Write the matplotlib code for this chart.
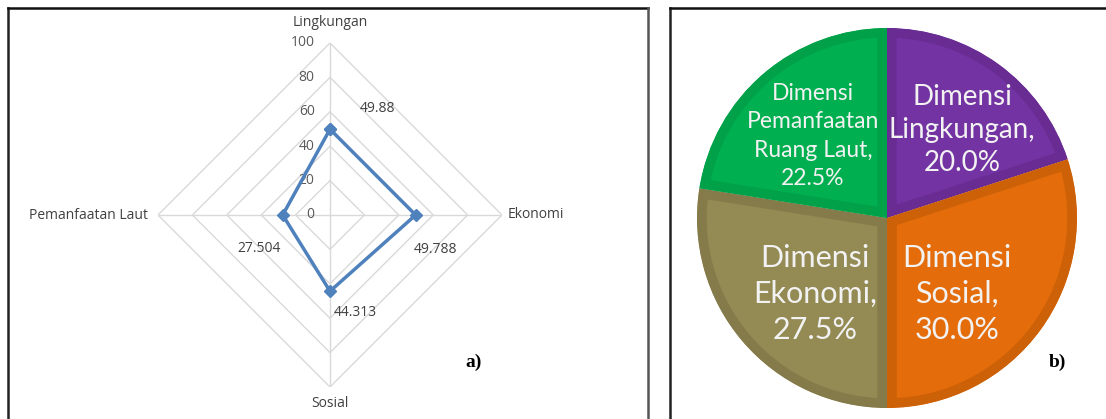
import numpy as np
import matplotlib
matplotlib.use("Agg")
import matplotlib.pyplot as plt
from matplotlib.lines import Line2D

# radar data (a)
radar_cats = ["Lingkungan", "Ekonomi", "Sosial", "Pemanfaatan Laut"]
radar_vals = [49.88, 49.788, 44.313, 27.504]
radar_labels = ["49.88", "49.788", "44.313", "27.504"]
radar_ticks = [0, 20, 40, 60, 80, 100]

# pie data (b)
pie_labels = ["Dimensi\nLingkungan,\n20.0%", "Dimensi\nSosial,\n30.0%",
              "Dimensi\nEkonomi,\n27.5%", "Dimensi\nPemanfaatan\nRuang Laut,\n22.5%"]
pie_vals = [20.0, 30.0, 27.5, 22.5]
pie_fill = ["#7433A2", "#E46C0A", "#948A54", "#00B050"]
pie_edge = ["#682C93", "#CC6108", "#857B4A", "#00A148"]

W, H = 1106, 419
fig = plt.figure(figsize=(W / 100, H / 100), dpi=100)

def fx(px):
    return px / W

def fy(py):
    return 1 - py / H

# panel frames
for x0, x1 in [(8, 648), (670, 1110)]:
    fig.add_artist(Line2D([fx(x0), fx(x0)], [fy(8), fy(425)], color="#222222", lw=1.8))
    fig.add_artist(Line2D([fx(x0), fx(x1)], [fy(8), fy(8)], color="#111111", lw=1.8))
fig.add_artist(Line2D([fx(648), fx(648)], [fy(8), fy(425)], color="#555555", lw=1.8))

# ---- radar ----
cx, cy, R = 330, 215, 172
ax = fig.add_axes([fx(cx - R), fy(cy + R), 2 * R / W, 2 * R / H], projection="polar")
ax.set_theta_zero_location("N")
ax.set_theta_direction(-1)
ax.set_ylim(0, 100)
ax.grid(False)
ax.spines["polar"].set_visible(False)
ax.set_xticks([])
ax.set_yticks([])
ax.patch.set_alpha(0)

theta = np.linspace(0, 2 * np.pi, len(radar_cats), endpoint=False)
th_closed = np.append(theta, theta[0])
for lev in radar_ticks[1:]:
    ax.plot(th_closed, [lev] * len(th_closed), color="#D9D9D9", lw=1, zorder=1)
for t in theta:
    ax.plot([t, t], [0, 100], color="#D9D9D9", lw=1, zorder=1)

for v in radar_ticks:
    ax.annotate(str(v), (0, v), xytext=(-11, 0), textcoords="offset points",
                ha="right", va="center", fontsize=10, color="#595959",
                family="Open Sans")

ax.plot(th_closed, np.append(radar_vals, radar_vals[0]), color="#4F81BD", lw=2.5,
        marker="D", markersize=6, zorder=3, clip_on=False)

offsets = [(34, 15), (14, -25), (18, -15), (-17, -24)]
for t, v, lab, off in zip(theta, radar_vals, radar_labels, offsets):
    ax.annotate(lab, (t, v), xytext=off, textcoords="offset points",
                ha="center", va="center", fontsize=10, color="#404040",
                family="Open Sans")

cat_pos = [((0, 100), (0, 15), "center", "center"),
           ((theta[1], 100), (4, 0), "left", "center"),
           ((theta[2], 100), (0, -12), "center", "center"),
           ((theta[3], 100), (-7, 0), "right", "center")]
for name, (xy, off, ha, va) in zip(radar_cats, cat_pos):
    ax.annotate(name, xy, xytext=off, textcoords="offset points",
                ha=ha, va=va, fontsize=10, color="#404040", family="Open Sans",
                annotation_clip=False)

fig.text(fx(474), fy(362), "a)", fontsize=14, fontweight="bold",
         family="Liberation Serif", ha="center", va="center")

# ---- pie ----
pcx, pcy, PR = 887, 218, 190
ax2 = fig.add_axes([fx(pcx - PR), fy(pcy + PR), 2 * PR / W, 2 * PR / H])
wedges, _ = ax2.pie(pie_vals, colors=pie_fill, startangle=90, counterclock=False,
                    radius=1.0, wedgeprops=dict(linewidth=14))
for w, ec in zip(wedges, pie_edge):
    w.set_edgecolor(ec)
    w.set_clip_path(w)  # keep the bevel band inside each slice
    w.set_clip_on(True)
ax2.set_xlim(-1, 1)
ax2.set_ylim(-1, 1)
ax2.set_aspect("equal")
ax2.axis("off")

lab_pos = [(962, 130, 20, 1.35), (957, 294, 22, 1.35), (815, 294, 22, 1.35),
           (813, 136, 16.5, 1.45)]
for lab, (px, py, fs, ls) in zip(pie_labels, lab_pos):
    fig.text(fx(px), fy(py), lab, fontsize=fs, color="#F2F2F2", family="Lato",
             ha="center", va="center", linespacing=ls)

fig.text(fx(1057), fy(362), "b)", fontsize=14, fontweight="bold",
         family="Liberation Serif", ha="center", va="center")

fig.savefig("out.png", dpi=100)
